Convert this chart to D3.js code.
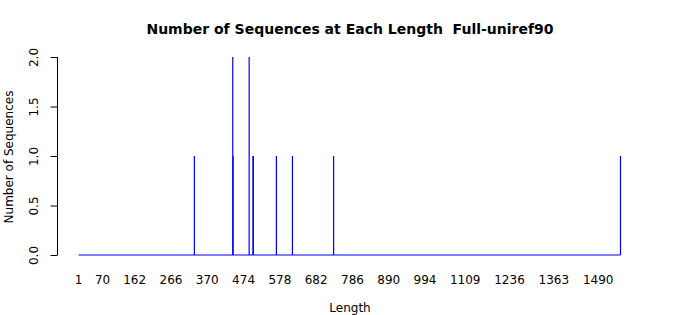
<!DOCTYPE html>
<html>
<head>
<meta charset="utf-8">
<script src="https://cdn.jsdelivr.net/npm/d3@7"></script>
<style>
	body { margin: 0; background: #fff; }
	text { font-family: "DejaVu Sans", sans-serif; fill: #000; white-space: pre; }
</style>
</head>
<body>
<svg id="chart" width="700" height="315"></svg>
<script>
// sequence lengths that occur, and how many sequences have them
const lengths = [333, 443, 444, 490, 501, 502, 568, 614, 732, 1554];
const counts  = [1,   2,   1,   2,   1,   1,   1,   1,   1,   1];
const maxLength = 1554;
const xTickLabels = [1, 70, 162, 266, 370, 474, 578, 682, 786, 890, 994, 1109, 1236, 1363, 1490];
const yTicks = [0, 0.5, 1, 1.5, 2];

const svg = d3.select("#chart");
const blue = "#0000ff";

let x = d3.scaleLinear()
	.domain([1, maxLength])
	.range([78.5, 620.5]);

let y = d3.scaleLinear()
	.domain([0, 2])
	.range([255, 57]);

// title (two spaces kept)
svg.append("text")
	.attr("x", 350)
	.attr("y", 34)
	.attr("text-anchor", "middle")
	.attr("font-size", 14)
	.attr("font-weight", "bold")
	.attr("xml:space", "preserve")
	.text("Number of Sequences at Each Length  Full-uniref90");

// zero-height bars show up as a blue baseline
svg.append("line")
	.attr("x1", x(1))
	.attr("x2", x(maxLength))
	.attr("y1", y(0))
	.attr("y2", y(0))
	.style("stroke", blue)
	.style("stroke-width", 1);

svg.selectAll("line.bar")
	.data(lengths.map((l, i) => ({len: l, n: counts[i]})))
	.enter()
	.append("line")
	.attr("class", "bar")
	.attr("x1", d => x(d.len))
	.attr("x2", d => x(d.len))
	.attr("y1", y(0))
	.attr("y2", d => y(d.n))
	.style("stroke", blue)
	.style("stroke-width", 1.2);

// y axis, R style: rotated labels, ticks outside
let yAxis = svg.append("g")
	.attr("transform", "translate(57.5,0)")
	.call(d3.axisLeft(y).tickValues(yTicks).tickSize(7).tickFormat(d3.format(".1f")));
yAxis.select(".domain").attr("d", "M0," + y(2) + "V" + y(0));
yAxis.selectAll(".tick text")
	.attr("font-size", 12)
	.attr("font-family", "DejaVu Sans, sans-serif")
	.attr("text-anchor", "middle")
	.attr("x", 0)
	.attr("y", 0)
	.attr("dy", "0.35em")
	.attr("transform", "translate(-24,0) rotate(-90)");

// x labels only (no axis line)
svg.append("g")
	.selectAll("text")
	.data(xTickLabels)
	.enter()
	.append("text")
	.attr("x", d => x(d))
	.attr("y", 284)
	.attr("text-anchor", "middle")
	.attr("font-size", 12)
	.text(d => d);

svg.append("text")
	.attr("x", 350)
	.attr("y", 312)
	.attr("text-anchor", "middle")
	.attr("font-size", 12)
	.text("Length");

svg.append("text")
	.attr("transform", "translate(13,157) rotate(-90)")
	.attr("text-anchor", "middle")
	.attr("font-size", 12)
	.text("Number of Sequences");
</script>
</body>
</html>
